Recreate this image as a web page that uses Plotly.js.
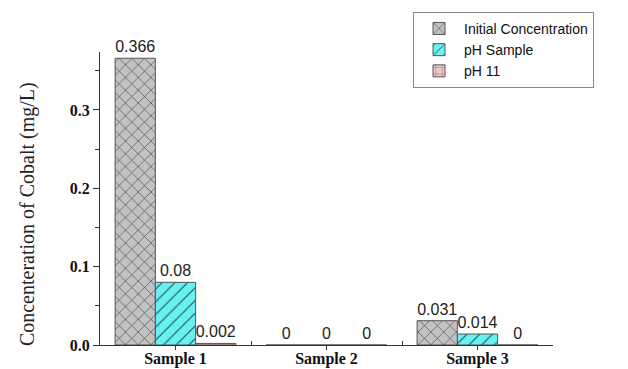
<!DOCTYPE html>
<html>
<head>
<meta charset="utf-8">
<script src="https://cdn.plot.ly/plotly-3.0.1.min.js"></script>
<style>html,body{margin:0;padding:0;background:#fff;}#chart{width:628px;height:369px;}</style>
</head>
<body>
<div id="chart"></div>
<script>
var categories = ["Sample 1", "Sample 2", "Sample 3"];
var seriesNames = ["Initial Concentration", "pH Sample", "pH 11"];
var initialConc = [0.366, 0, 0.031];
var phSample = [0.08, 0, 0.014];
var ph11 = [0.002, 0, 0];
var labelsInitial = ["0.366", "0", "0.031"];
var labelsPhSample = ["0.08", "0", "0.014"];
var labelsPh11 = ["0.002", "0", "0"];
var yTickVals = [0, 0.1, 0.2, 0.3];
var yTitle = "Concenteration of Cobalt (mg/L)";

var sans = "Liberation Sans, Arial, sans-serif";
var serif = "Liberation Serif, Times New Roman, serif";

function bar(name, vals, labels, bg, fg, shape, size) {
  return {
    type: "bar", name: name, x: categories, y: vals,
    text: labels, textposition: "outside", cliponaxis: false,
    textfont: {family: sans, size: 16, color: "#222"},
    marker: {
      color: bg,
      line: {color: "#555", width: 1},
      pattern: {shape: shape, bgcolor: bg, fgcolor: fg, size: size, solidity: 0.12, fillmode: "replace"}
    },
    hoverinfo: "none"
  };
}

var traces = [
  bar(seriesNames[0], initialConc, labelsInitial, "#c2c2c2", "#333", "x", 9),
  bar(seriesNames[1], phSample, labelsPhSample, "#66f2f2", "#2a4a4a", "/", 9),
  bar(seriesNames[2], ph11, labelsPh11, "#e2cccc", "#d04040", "+", 8),
  {type: "scatter", x: [0.5, 1.5, 2.5], y: [0, 0, 0], xaxis: "x2", mode: "none", showlegend: false, hoverinfo: "none"}
];

var layout = {
  width: 628, height: 369,
  margin: {l: 100, r: 75, t: 52, b: 24},
  paper_bgcolor: "#fff", plot_bgcolor: "#fff",
  barmode: "group", bargap: 0.2, bargroupgap: 0,
  showlegend: true,
  legend: {
    x: 0.691, y: 1.137, xanchor: "left", yanchor: "top",
    bordercolor: "#888", borderwidth: 1, bgcolor: "#fff",
    font: {family: sans, size: 14, color: "#111"},
    tracegroupgap: 0, traceorder: "normal", itemwidth: 40
  },
  xaxis: {
    type: "category", range: [-0.5, 2.5],
    showline: true, linecolor: "#333", linewidth: 1,
    ticks: "outside", ticklen: 4, tickcolor: "#333",
    ticklabelstandoff: -5,
    tickfont: {family: serif, size: 16, color: "#111", weight: "bold"},
    showgrid: false, zeroline: false, automargin: false
  },
  xaxis2: {
    overlaying: "x", range: [-0.5, 2.5], anchor: "y",
    tickvals: [0.5, 1.5, 2.5], ticks: "inside", ticklen: 4, tickcolor: "#333",
    showticklabels: false, showline: false, showgrid: false, zeroline: false
  },
  yaxis: {
    range: [0, 0.374],
    tickvals: yTickVals, tickformat: ".1f",
    showline: true, linecolor: "#333", linewidth: 1,
    ticks: "outside", ticklen: 6, tickcolor: "#333",
    minor: {dtick: 0.05, ticks: "outside", ticklen: 4, tickcolor: "#333", showgrid: false},
    tickfont: {family: serif, size: 16, color: "#111", weight: "bold"},
    showgrid: false, zeroline: false, automargin: false
  },
  annotations: [{
    text: yTitle, textangle: -90, showarrow: false,
    xref: "paper", yref: "paper", x: -0.161, y: 0.447, xanchor: "center", yanchor: "middle",
    font: {family: serif, size: 20, color: "#222"}
  }]
};

Plotly.newPlot("chart", traces, layout, {staticPlot: true, displayModeBar: false});
</script>
</body>
</html>
